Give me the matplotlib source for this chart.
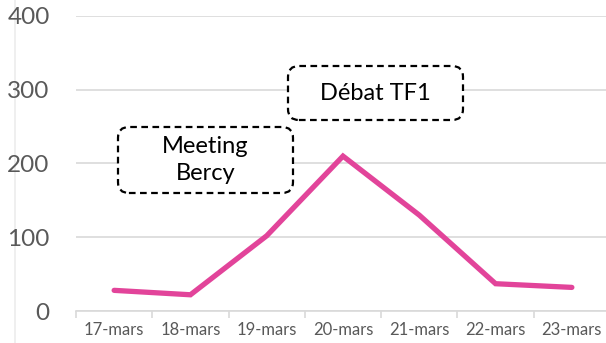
import matplotlib
matplotlib.use("Agg")
import matplotlib.pyplot as plt
from matplotlib.patches import FancyBboxPatch
from matplotlib.lines import Line2D

# Daily values
days = ["17-mars", "18-mars", "19-mars", "20-mars", "21-mars", "22-mars", "23-mars"]
values = [28, 22, 102, 210, 130, 37, 32]
y_ticks = [0, 100, 200, 300, 400]

notes = ["Meeting\nBercy", "Débat TF1"]

plt.rcParams['font.family'] = ['Lato', 'DejaVu Sans']

W, H = 606, 343
fig = plt.figure(figsize=(W / 100, H / 100), dpi=100)

# faint chart-area border on the left, behind everything else
fig.add_artist(Line2D([15 / W, 15 / W], [0, 1], color="#ececec", linewidth=1.2,
                      transform=fig.transFigure, zorder=-5))

# plot area runs a little past the right edge of the image
ax = fig.add_axes([76 / W, 32 / H, 534 / W, 295 / H])
ax.patch.set_alpha(0)
x = list(range(len(days)))
ax.plot(x, values, color="#E2449A", linewidth=3.8, solid_capstyle="round",
        solid_joinstyle="miter", zorder=3)

ax.set_xlim(-0.5, len(days) - 0.5)
ax.set_ylim(0, 400)
ax.set_yticks(y_ticks)
ax.set_yticklabels([str(v) for v in y_ticks])
ax.yaxis.grid(True, color="#d9d9d9", linewidth=1.2)
ax.set_axisbelow(True)

ax.set_xticks(x)
ax.set_xticklabels(days)
ax.set_xticks([i - 0.5 for i in x], minor=True)
ax.tick_params(axis="x", which="major", length=0, pad=8, labelsize=12,
               labelcolor="#595959")
ax.tick_params(axis="x", which="minor", length=5, color="#d9d9d9", width=1.2)
ax.tick_params(axis="y", length=0, pad=19, labelsize=17.5, labelcolor="#595959")

for side in ["top", "right", "left"]:
    ax.spines[side].set_visible(False)
ax.spines["bottom"].set_color("#d9d9d9")
ax.spines["bottom"].set_linewidth(1.2)

# dashed callout boxes (pixel extents: left, top, right, bottom)
boxes = [(118, 127, 293, 193), (288, 66, 463, 120)]
for (l, t, r, b), txt in zip(boxes, notes):
    patch = FancyBboxPatch((l / W, 1 - b / H), (r - l) / W, (b - t) / H,
                           boxstyle="round,pad=0,rounding_size=0.018",
                           transform=fig.transFigure, facecolor="white",
                           edgecolor="black", linewidth=1.6, linestyle=(0, (3, 2)),
                           mutation_aspect=W / H, zorder=4)
    fig.add_artist(patch)
    fig.text((l + r) / 2 / W, 1 - (t + b) / 2 / H, txt, ha="center", va="center",
             fontsize=17, color="black", linespacing=1.35, zorder=5)

fig.savefig("out.png", dpi=100)
